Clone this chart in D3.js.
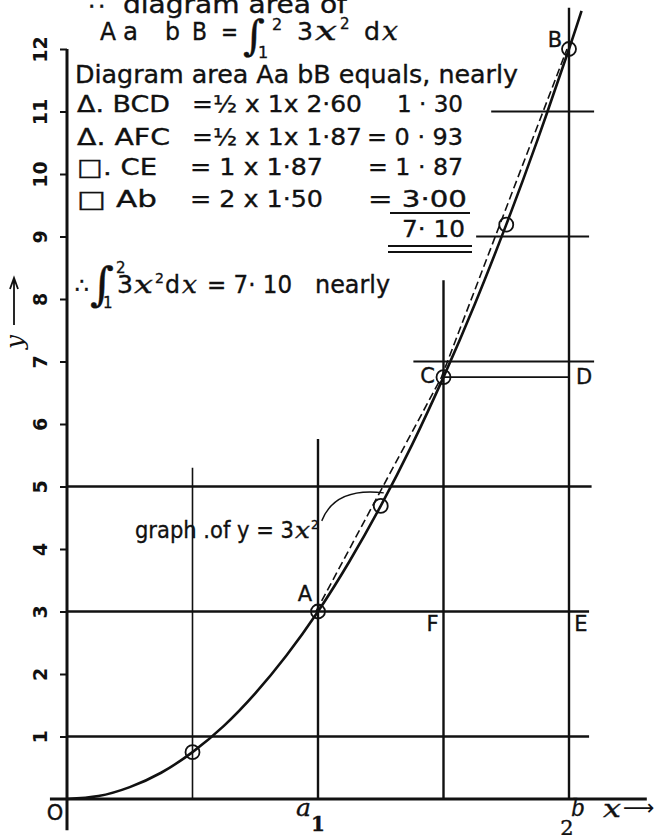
<!DOCTYPE html>
<html>
<head>
<meta charset="utf-8">
<script src="https://cdn.jsdelivr.net/npm/d3@7"></script>
<style>
  html, body { margin: 0; padding: 0; background: #fff; }
  svg { display: block; }
  text { fill: #111; font-family: "DejaVu Sans", sans-serif; stroke: #111; stroke-width: 0.35px; }
</style>
</head>
<body>
<svg id="chart" width="658" height="835"></svg>
<script>
// Sampled points of y = 3x²
const curveX = [0, 0.125, 0.25, 0.375, 0.5, 0.625, 0.75, 0.875, 1, 1.125, 1.25, 1.375, 1.5, 1.625, 1.75, 1.875, 2, 2.05];
const curveY = [0, 0.047, 0.19, 0.42, 0.75, 1.17, 1.69, 2.30, 3, 3.80, 4.69, 5.67, 6.75, 7.92, 9.19, 10.55, 12, 12.61];

// Plotted (circled) points
const pointX = [0.5, 1, 1.25, 1.5, 1.75, 2];
const pointY = [0.75, 3, 4.69, 6.75, 9.19, 12];

// Straight chords A–C–B
const chordX = [1, 1.5, 2];
const chordY = [3, 6.75, 12];

// y axis ticks
const yTicks = [1, 2, 3, 4, 5, 6, 7, 8, 9, 10, 11, 12];
const yTickLabels = ["1", "2", "3", "4", "5", "6", "7", "8", "9", "10", "11", "12"];

// Horizontal rules: level and x-extent
const ruleY    = [1, 3, 5, 6.75, 7, 9, 11];
const ruleFrom = [0, 0, 0, 1.5, 1.38, 1.63, 1.69];
const ruleTo   = [2.08, 2.08, 2.09, 2, 2.1, 2.08, 2.1];

// Vertical rules: position and top
const ruleX   = [0.5, 1, 1.5, 2];
const ruleTop = [5.3, 5.76, 8.3, 12.66];

// Lettered points
const letterNames = ["A", "B", "C", "D", "E", "F"];
const letterX = [1, 2, 1.5, 2, 2, 1.5];
const letterY = [3, 12, 6.75, 6.75, 3, 3];

const svg = d3.select("#chart");
const x = d3.scaleLinear().domain([0, 2]).range([67, 569]);
const y = d3.scaleLinear().domain([0, 12]).range([799, 49]);
const ink = "#111";

// ---- rules ----
const g = svg.append("g");
g.selectAll("line.h").data(ruleY).join("line")
  .attr("x1", (d, i) => x(ruleFrom[i])).attr("x2", (d, i) => x(ruleTo[i]))
  .attr("y1", d => y(d)).attr("y2", d => y(d))
  .attr("stroke", ink)
  .attr("stroke-width", d => (d === 1 || d === 3 || d === 5) ? 2.4 : 1.8);

g.selectAll("line.v").data(ruleX).join("line")
  .attr("x1", d => x(d)).attr("x2", d => x(d))
  .attr("y1", y(0)).attr("y2", (d, i) => y(ruleTop[i]))
  .attr("stroke", ink)
  .attr("stroke-width", d => d === 0.5 ? 1.6 : 2.4);

// ---- axes ----
svg.append("line").attr("x1", x(-0.068)).attr("x2", x(2.31))
  .attr("y1", y(0)).attr("y2", y(0)).attr("stroke", ink).attr("stroke-width", 3);
svg.append("line").attr("x1", x(0)).attr("x2", x(0))
  .attr("y1", y(12)).attr("y2", y(-0.5)).attr("stroke", ink).attr("stroke-width", 3);

const yAxis = d3.axisLeft(y).tickValues(yTicks)
  .tickFormat((d, i) => yTickLabels[i]).tickSize(7).tickSizeOuter(0);
const ya = svg.append("g").attr("transform", `translate(${x(0)},0)`).call(yAxis);
ya.select(".domain").remove();
ya.selectAll(".tick line").attr("stroke", ink).attr("stroke-width", 2);
ya.selectAll(".tick text")
  .attr("transform", "rotate(-90)")
  .attr("x", 0).attr("y", -20).attr("dy", 0)
  .attr("text-anchor", "middle")
  .style("font-family", "DejaVu Sans, sans-serif")
  .style("font-size", "19px").style("font-weight", "bold")
  .style("stroke-width", "0px")
  .attr("fill", ink);

// y axis name with upward arrow
svg.append("text").attr("transform", "translate(23,342) rotate(-90)")
  .attr("text-anchor", "middle").style("font-size", "25px")
  .style("font-family", "DejaVu Serif").style("font-style", "italic").style("stroke-width", "0px")
  .text("y");
svg.append("path").attr("d", "M14,325 L14,279 M10,289 L14,278 L18,289")
  .attr("fill", "none").attr("stroke", ink).attr("stroke-width", 1.8);

// ---- curve, chords, points ----
const line = d3.line().x(d => x(d[0])).y(d => y(d[1]));
svg.append("path").datum(curveX.map((v, i) => [v, curveY[i]]))
  .attr("d", line.curve(d3.curveNatural))
  .attr("fill", "none").attr("stroke", ink).attr("stroke-width", 2.6);

svg.append("path").datum(chordX.map((v, i) => [v, chordY[i]]))
  .attr("d", d3.line().x(d => x(d[0]) - 2).y(d => y(d[1])))
  .attr("fill", "none").attr("stroke", ink).attr("stroke-width", 1.6)
  .attr("stroke-dasharray", "8,4");

svg.selectAll("circle.pt").data(pointX).join("circle")
  .attr("cx", d => x(d)).attr("cy", (d, i) => y(pointY[i]))
  .attr("r", 7).attr("fill", "none").attr("stroke", ink).attr("stroke-width", 1.8);

// ---- text helpers ----
function t(xp, yp, size, html, anchor) {
  return svg.append("text").attr("x", xp).attr("y", yp)
    .attr("text-anchor", anchor || "start").style("font-size", size + "px").html(html);
}
// plain text fitted between two x positions
function fit(str, x0, x1, yp, size) {
  return svg.append("text").attr("x", x0).attr("y", yp)
    .attr("textLength", x1 - x0).attr("lengthAdjust", "spacingAndGlyphs")
    .style("font-size", size + "px").text(str);
}
// italic serif letter fitted between two x positions
function ifit(ch, x0, x1, yp, size) {
  return fit(ch, x0, x1, yp, size)
    .style("font-family", "DejaVu Serif").style("font-style", "italic");
}
function integral(xp, yp, size, supX, supY, subX, subY, small) {
  t(xp, yp, size, "∫").style("font-family", "DejaVu Serif");
  t(supX, supY, small, "2");
  t(subX, subY, small, "1");
}

// ---- letter labels ----
const letterOffset = { A: [-13, -11], B: [-14, -2], C: [-16, 6], D: [15, 7], E: [12, 19], F: [-11, 19] };
svg.selectAll("text.lt").data(letterNames).join("text")
  .attr("x", (d, i) => x(letterX[i]) + letterOffset[d][0])
  .attr("y", (d, i) => y(letterY[i]) + letterOffset[d][1])
  .attr("text-anchor", "middle").style("font-size", "21px")
  .text(d => d);

t(x(0) - 12, y(0) + 21, 21, "O", "middle");
ifit("a", x(1) - 22, x(1) - 7, y(0) + 17, 25);
t(x(1), y(0) + 32, 20, "1", "middle").style("font-family", "DejaVu Serif").style("font-weight", "bold");
ifit("b", x(2) + 2, x(2) + 16, y(0) + 17, 25);
t(x(2) - 2, y(0) + 36, 21, "2", "middle").style("font-family", "DejaVu Serif");
ifit("x", 603, 621, y(0) + 18, 25);
t(623, y(0) + 16, 22, "⟶").style("stroke-width", "0px");

// ---- graph annotation ----
fit("graph .of y = 3", 135, 294, 538, 23);
ifit("x", 295, 310, 538, 23);
t(311, 529, 12, "2");
const px = x(1.25), py = y(4.69);
svg.append("path")
  .attr("d", `M${px - 59},${py + 15} C${px - 50},${py - 8} ${px - 30},${py - 17} ${px + 3},${py - 13}`)
  .attr("fill", "none").attr("stroke", ink).attr("stroke-width", 1.4);

// ---- working ----
t(89, 10, 24, "∴");
fit("diagram area of", 123, 347, 13, 24);

fit("A", 100, 116, 40, 25);
fit("a", 123, 138, 40, 25);
fit("b", 165, 180, 40, 25);
fit("B", 192, 207, 40, 25);
fit("=", 221, 238, 40, 25);
integral(243, 50, 42, 272, 30, 258, 58, 16);
fit("3", 297, 313, 40, 25);
ifit("x", 315, 337, 40, 26);
t(340, 29, 15, "2");
fit("d", 364, 380, 40, 25);
ifit("x", 382, 398, 40, 26);

fit("Diagram area Aa bB equals, nearly", 75, 518, 83, 24);

fit("Δ. BCD", 77, 170, 112, 23);
fit("=½ x 1x 2·60", 192, 362, 112, 23);
fit("1 · 30", 397, 463, 112, 23);

fit("Δ. AFC", 77, 170, 145, 23);
fit("=½ x 1x 1·87", 192, 362, 145, 23);
fit("= 0 · 93", 367, 463, 145, 23);

fit("□. CE", 77, 157, 175, 23);
fit("= 1 x 1·87", 190, 323, 175, 23);
fit("= 1 · 87", 368, 463, 175, 23);

fit("□  Ab", 77, 157, 207, 23);
fit("= 2 x 1·50", 190, 323, 207, 23);
fit("= 3·00", 368, 467, 207, 23);
fit("7· 10", 402, 465, 237, 23);

svg.append("line").attr("x1", 390).attr("x2", 470).attr("y1", 213).attr("y2", 213).attr("stroke", ink).attr("stroke-width", 2);
svg.append("line").attr("x1", 388).attr("x2", 472).attr("y1", 246).attr("y2", 246).attr("stroke", ink).attr("stroke-width", 2);
svg.append("line").attr("x1", 388).attr("x2", 472).attr("y1", 252).attr("y2", 252).attr("stroke", ink).attr("stroke-width", 2);

t(75, 293, 22, "∴");
integral(90, 300, 46, 116, 273, 103, 308, 15);
fit("3", 117, 133, 293, 24);
ifit("x", 134, 153, 293, 25);
t(155, 283, 14, "2");
fit("d", 165, 180, 293, 24);
ifit("x", 182, 197, 293, 25);
fit("= 7· 10", 207, 292, 293, 24);
fit("nearly", 315, 390, 293, 24);
</script>
</body>
</html>
